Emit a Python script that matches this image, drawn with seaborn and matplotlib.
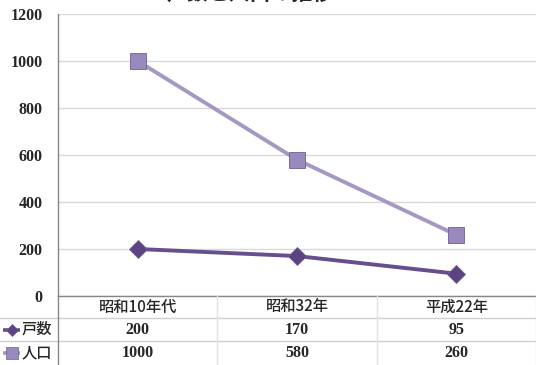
import matplotlib
matplotlib.use("Agg")
import matplotlib.pyplot as plt
import seaborn as sns
import pandas as pd
import numpy as np

categories = ["昭和10年代", "昭和32年", "平成22年"]
households = [200, 170, 95]      # 戸数
population = [1000, 580, 260]    # 人口
series_names = ["戸数", "人口"]
yticks = [0, 200, 400, 600, 800, 1000, 1200]
title = "戸数と人口の推移"

sns.set_theme(style="white")
plt.rcParams['font.family'] = ['Noto Sans CJK JP', 'DejaVu Sans']

W, H = 536, 365
fig = plt.figure(figsize=(W / 100, H / 100), dpi=100)

def fx(px):
    return px / W

def fy(py):
    return 1 - py / H

ax_left, ax_right, ax_top, ax_bot = 58, 536, 14, 296
ax = fig.add_axes([fx(ax_left), fy(ax_bot), fx(ax_right - ax_left), fy(ax_top) - fy(ax_bot)])

df = pd.DataFrame({
    "pos": list(range(len(categories))) * 2,
    "value": households + population,
    "series": [series_names[0]] * len(categories) + [series_names[1]] * len(categories),
})

colors = {"戸数": "#674f8e", "人口": "#a598c3"}
mcolors = {"戸数": "#5c4383", "人口": "#9a89bd"}
markers = {"戸数": "D", "人口": "s"}
msize = {"戸数": 9, "人口": 11}

for s in series_names:
    sub = df[df.series == s]
    sns.lineplot(data=sub, x="pos", y="value", ax=ax, color=colors[s], lw=2.8,
                 marker=markers[s], markersize=msize[s], markerfacecolor=mcolors[s],
                 markeredgecolor="#6e6090", markeredgewidth=0.6, legend=False, zorder=3)

ax.set_xlim(-0.5, len(categories) - 0.5)
ax.set_ylim(0, 1200)
ax.set_yticks(yticks)
ax.set_yticklabels([str(v) for v in yticks], fontfamily="Liberation Serif",
                   fontweight="bold", fontsize=11.5)
ax.tick_params(axis="y", length=0, pad=11)
ax.set_xticks([])
ax.set_xlabel("")
ax.set_ylabel("")
ax.grid(axis="y", color="#d9d9d9", lw=1)
ax.set_axisbelow(True)
for sp in ["top", "right"]:
    ax.spines[sp].set_visible(False)
ax.spines["left"].set_color("#868686")
ax.spines["bottom"].set_color("#868686")
ax.spines["left"].set_linewidth(1)
ax.spines["bottom"].set_linewidth(1)

# title (mostly cut off at the top edge, as in the reference)
fig.text(fx(250), fy(0), title, ha="center", va="baseline", fontsize=15, fontweight="bold")

# data table below the plot
tax = fig.add_axes([0, 0, 1, fy(ax_bot)])
tax.set_xlim(0, W)
tax.set_ylim(H, ax_bot)
tax.axis("off")
row_lines = [318, 341]
grid_c = "#cfcfcf"
for yl in row_lines:
    tax.plot([0, W], [yl, yl], color=grid_c, lw=1)
col_w = (ax_right - ax_left) / len(categories)
for i in range(1, len(categories) + 1):
    xb = ax_left + i * col_w
    tax.plot([xb, xb], [ax_bot, H], color="#e2e2e2", lw=1)
tax.plot([ax_left, ax_left], [ax_bot, H], color="#868686", lw=1)

row_centers = [307, 329.5, 353]
for i, c in enumerate(categories):
    xc = ax_left + (i + 0.5) * col_w
    tax.text(xc, row_centers[0], c, ha="center", va="center", fontsize=11, fontweight="medium")
    tax.text(xc, row_centers[1], str(households[i]), ha="center", va="center",
             fontsize=11.5, fontfamily="Liberation Serif", fontweight="bold")
    tax.text(xc, row_centers[2], str(population[i]), ha="center", va="center",
             fontsize=11.5, fontfamily="Liberation Serif", fontweight="bold")

for r, s in enumerate(series_names):
    yc = row_centers[r + 1]
    tax.plot([3, 20], [yc, yc], color=colors[s], lw=2.6, solid_capstyle="butt")
    tax.plot([11.5], [yc], marker=markers[s], markersize=msize[s] - 3,
             color=mcolors[s], markeredgecolor="#6e6090", markeredgewidth=0.5)
    tax.text(37, yc, s, ha="center", va="center", fontsize=11, fontweight="medium")

fig.savefig("out.png", dpi=100)
